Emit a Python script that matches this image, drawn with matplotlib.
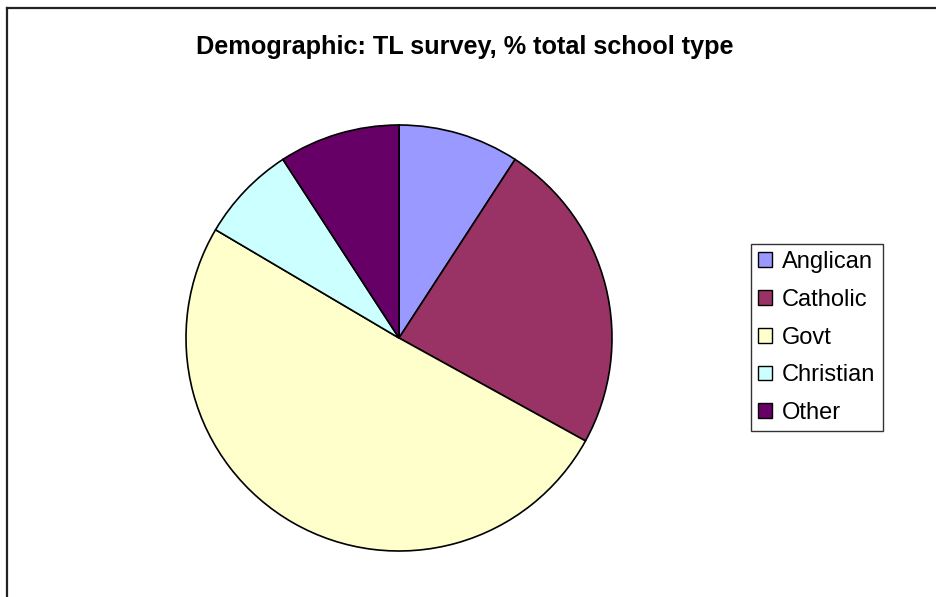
import matplotlib
matplotlib.use('Agg')
import matplotlib.pyplot as plt
from matplotlib.patches import Patch
from matplotlib.lines import Line2D

# ---- data ----
labels = ['Anglican', 'Catholic', 'Govt', 'Christian', 'Other']
counts = [10, 26, 55, 8, 10]
colors = ['#9999FF', '#993366', '#FFFFCC', '#CCFFFF', '#660066']
title = 'Demographic: TL survey, % total school type'

plt.rcParams['font.family'] = ['Liberation Sans', 'DejaVu Sans']

W, H = 937, 597
fig = plt.figure(figsize=(W / 100, H / 100), dpi=100)

# pie placed in pixel coordinates (centre ~ (399, 338), radius ~ 213)
cx, cy, r = 399, 338, 213
ax = fig.add_axes([(cx - r) / W, (H - cy - r) / H, 2 * r / W, 2 * r / H])
ax.pie(counts, colors=colors, startangle=90, counterclock=False,
       wedgeprops=dict(edgecolor='black', linewidth=1.2))
ax.set_aspect('equal')
ax.set_xlim(-1, 1)
ax.set_ylim(-1, 1)
ax.axis('off')

fig.text(465 / W, 1 - 47 / H, title, ha='center', va='center',
         fontsize=18.2, fontweight='bold')

handles = [Patch(facecolor=c, edgecolor='black', linewidth=1) for c in colors]
leg = fig.legend(handles, labels, loc='center left',
                 bbox_to_anchor=(751 / W, 1 - 337.5 / H),
                 fontsize=17, frameon=True, fancybox=False,
                 handlelength=0.6, handleheight=0.6, handletextpad=0.42,
                 labelspacing=0.67, borderpad=0.3, borderaxespad=0)
leg.get_frame().set_edgecolor('black')
leg.get_frame().set_linewidth(1)

# chart-area border (top and left visible)
fig.add_artist(Line2D([7.5 / W, 1], [1 - 7.5 / H, 1 - 7.5 / H], color='#222222', lw=1.6))
fig.add_artist(Line2D([7.5 / W, 7.5 / W], [0, 1 - 7.5 / H], color='#222222', lw=1.6))

fig.savefig('out.png', dpi=100)
